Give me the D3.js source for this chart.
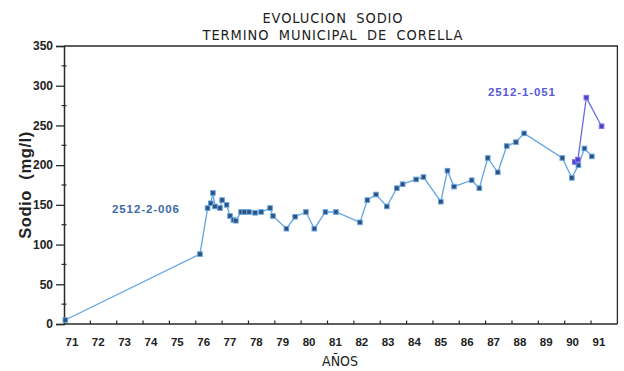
<!DOCTYPE html>
<html><head><meta charset="utf-8">
<script src="https://cdn.jsdelivr.net/npm/d3@7"></script>
<style>
html,body{margin:0;padding:0;background:#fff;}
svg{display:block;}
</style></head>
<body>
<svg id="chart" width="624" height="371"></svg>
<script>
const titleLines = ["EVOLUCION SODIO", "TERMINO MUNICIPAL DE CORELLA"];
const yLabel = "Sodio  (mg/l)";
const xLabel = "AÑOS";
const yearTicks = [71,72,73,74,75,76,77,78,79,80,81,82,83,84,85,86,87,88,89,90,91];
const yTicks = [0,50,100,150,200,250,300,350];
const yMinorTicks = [25,75,125,175,225,275,325];

const series006Name = "2512-2-006";
const years006 = [71.05, 76.16, 76.45, 76.57, 76.65, 76.73, 76.92, 77.0, 77.17, 77.3, 77.43, 77.52, 77.72, 77.84, 78.02, 78.25, 78.48, 78.82, 78.93, 79.44, 79.77, 80.18, 80.5, 80.92, 81.32, 82.23, 82.51, 82.84, 83.25, 83.63, 83.85, 84.36, 84.64, 85.3, 85.55, 85.8, 86.47, 86.76, 87.08, 87.46, 87.8, 88.15, 88.46, 89.91, 90.27, 90.52, 90.75, 91.03];
const values006 = [5, 88, 146, 152, 165, 148, 146, 156, 150, 136, 131, 130, 141, 141, 141, 140, 141, 146, 136, 120, 135, 141, 120, 141, 141, 128, 156, 163, 148, 171, 176, 182, 185, 154, 193, 173, 181, 171, 209, 191, 224, 229, 240, 209, 184, 200, 221, 211];

const series051Name = "2512-1-051";
const years051 = [90.38, 90.5, 90.82, 91.4];
const values051 = [204, 207, 285, 249];

const svg = d3.select("#chart");
const x = d3.scaleLinear().domain([71, 92]).range([64, 617.4]);
const y = d3.scaleLinear().domain([0, 350]).range([324, 46]);
const axisColor = "#2a2a2a";

// Title
svg.append("g").selectAll("text").data(titleLines).join("text")
  .attr("x", 333).attr("y", (d,i) => 23 + i*17)
  .attr("text-anchor", "middle")
  .attr("font-family", "DejaVu Sans, sans-serif")
  .attr("font-stretch", "condensed")
  .attr("font-size", 14.5)
  .attr("letter-spacing", 0.9)
  .attr("word-spacing", 4.5)
  .attr("fill", "#222")
  .text(d => d);

// Frame (top and right)
svg.append("path")
  .attr("d", `M${x(71)},${y(350)}H${x(92)}V${y(0)}`)
  .attr("fill", "none").attr("stroke", axisColor).attr("stroke-width", 1.3);

// Y axis
const yAxis = d3.axisLeft(y).tickValues(yTicks).tickSize(8).tickPadding(3);
const gy = svg.append("g").attr("transform", `translate(${x(71)},0)`).call(yAxis);
gy.select(".domain").attr("stroke", axisColor).attr("stroke-width", 1.5);
gy.selectAll(".tick line").attr("stroke", axisColor).attr("stroke-width", 1.3);
gy.selectAll(".tick text").attr("font-family", "Liberation Sans, Arial, sans-serif")
  .attr("font-weight", "bold").attr("font-size", 12).attr("fill", "#222");
svg.append("g").selectAll("line").data(yMinorTicks).join("line")
  .attr("x1", x(71) - 2.5).attr("x2", x(71) + 2.5)
  .attr("y1", d => y(d)).attr("y2", d => y(d))
  .attr("stroke", axisColor).attr("stroke-width", 1.2);

// X axis
const xAxis = d3.axisBottom(x).tickValues(yearTicks).tickSize(0).tickPadding(14).tickFormat(d => d);
const gx = svg.append("g").attr("transform", `translate(0,${y(0)})`).call(xAxis);
gx.select(".domain").attr("stroke", axisColor).attr("stroke-width", 1.5)
  .attr("d", `M${x(71)},0H${x(92)}`);
gx.selectAll(".tick text").attr("font-family", "Liberation Sans, Arial, sans-serif")
  .attr("font-weight", "bold").attr("font-size", 11.5).attr("fill", "#222")
  .attr("text-anchor", "start").attr("dx", 1);
svg.append("g").selectAll("line").data(yearTicks.slice(1)).join("line")
  .attr("x1", d => x(d)).attr("x2", d => x(d))
  .attr("y1", y(0)).attr("y2", y(0) - 3.5)
  .attr("stroke", axisColor).attr("stroke-width", 1.2);

// Axis titles
svg.append("text")
  .attr("transform", `translate(31,${y(175)}) rotate(-90)`)
  .attr("text-anchor", "middle")
  .attr("font-family", "Liberation Sans, Arial, sans-serif")
  .attr("font-weight", "bold")
  .attr("font-size", 16.5).attr("fill", "#222")
  .attr("letter-spacing", 0.6)
  .style("white-space", "pre")
  .text(yLabel);
svg.append("text")
  .attr("x", 340).attr("y", 366)
  .attr("text-anchor", "middle")
  .attr("font-family", "DejaVu Sans, sans-serif")
  .attr("font-stretch", "condensed")
  .attr("font-size", 14).attr("fill", "#222")
  .text(xLabel);

// Series 006
const d006 = years006.map((yr, i) => ({yr, v: values006[i]}));
const line = d3.line().x(d => x(d.yr)).y(d => y(d.v));
svg.append("path").datum(d006).attr("d", line)
  .attr("fill", "none").attr("stroke", "#62a4e4").attr("stroke-width", 1.3);
svg.append("g").selectAll("rect").data(d006).join("rect")
  .attr("x", d => x(d.yr) - 2.3).attr("y", d => y(d.v) - 2.3)
  .attr("width", 4.6).attr("height", 4.6)
  .attr("fill", "#2f4e78").attr("stroke", "#62a4e4").attr("stroke-width", 1);

// Series 051
const d051 = years051.map((yr, i) => ({yr, v: values051[i]}));
svg.append("path").datum(d051).attr("d", line)
  .attr("fill", "none").attr("stroke", "#6b6be8").attr("stroke-width", 1.3);
svg.append("g").selectAll("rect").data(d051).join("rect")
  .attr("x", d => x(d.yr) - 2.3).attr("y", d => y(d.v) - 2.3)
  .attr("width", 4.6).attr("height", 4.6)
  .attr("fill", "#5040c8").attr("stroke", "#7a7aee").attr("stroke-width", 1);

// Series labels
svg.append("text").attr("x", 112).attr("y", 213)
  .attr("font-family", "Liberation Sans, Arial, sans-serif")
  .attr("font-weight", "bold").attr("font-size", 11.5).attr("fill", "#3c6aa8")
  .attr("letter-spacing", 0.9)
  .text(series006Name);
svg.append("text").attr("x", 488).attr("y", 96)
  .attr("font-family", "Liberation Sans, Arial, sans-serif")
  .attr("font-weight", "bold").attr("font-size", 11.5).attr("fill", "#5a5ad8")
  .attr("letter-spacing", 0.9)
  .text(series051Name);
</script>
</body></html>
